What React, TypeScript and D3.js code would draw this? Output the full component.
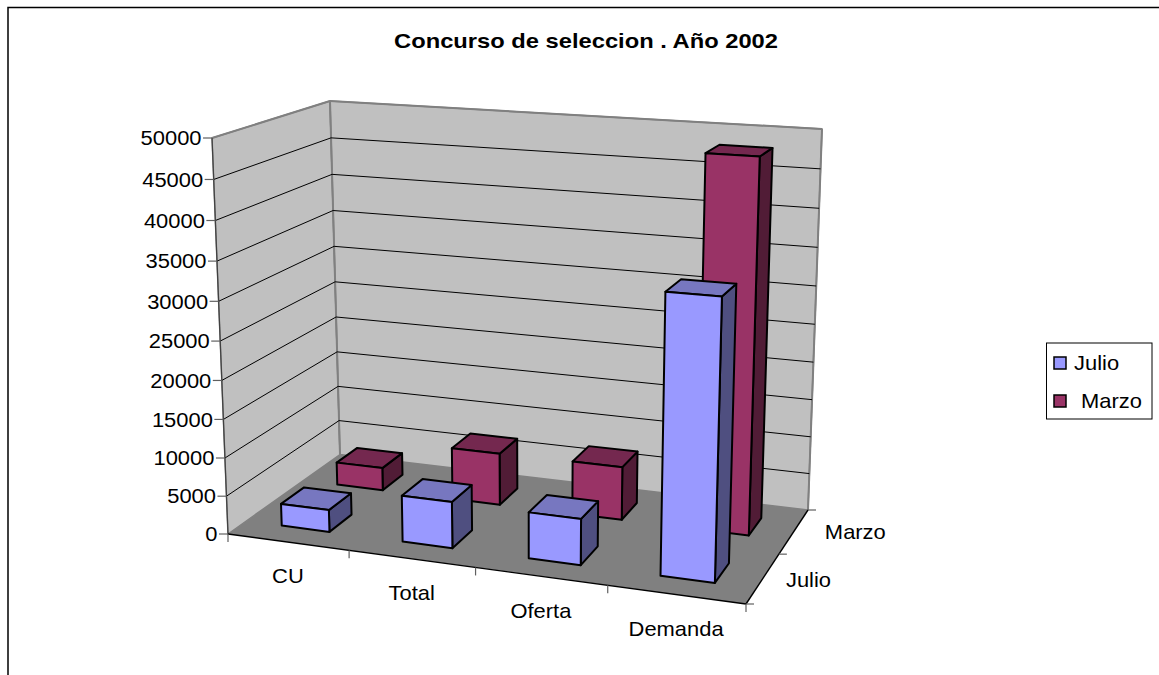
import React from "react";
import * as d3 from "d3";

const categories = ["CU", "Total", "Oferta", "Demanda"];
const seriesNames = ["Julio", "Marzo"];
const julioValues = [2900, 6000, 5900, 34700];
const marzoValues = [3100, 7000, 7100, 48100];
const yTicks = [0, 5000, 10000, 15000, 20000, 25000, 30000, 35000, 40000, 45000, 50000];

const W = 1159, H = 675;
type P = [number, number];

// Unit square -> floor quadrilateral as homogeneous columns (corners: u0v0, u1v0, u1v1, u0v1)
function homography(p0: P, p1: P, p2: P, p3: P) {
  const dx1 = p1[0] - p2[0], dx2 = p3[0] - p2[0], sx = p0[0] - p1[0] + p2[0] - p3[0];
  const dy1 = p1[1] - p2[1], dy2 = p3[1] - p2[1], sy = p0[1] - p1[1] + p2[1] - p3[1];
  const den = dx1 * dy2 - dx2 * dy1;
  const g = (sx * dy2 - dx2 * sy) / den;
  const h = (dx1 * sy - sx * dy1) / den;
  return {
    a: p1[0] - p0[0] + g * p1[0], b: p3[0] - p0[0] + h * p3[0], c: p0[0],
    d: p1[1] - p0[1] + g * p1[1], e: p3[1] - p0[1] + h * p3[1], f: p0[1],
    g, h,
  };
}

const floor = homography([228, 534], [746, 604], [808, 510], [340, 454.5]);
const vanishing: P = [531, 8045];
const lambda = -396 / (8045 - 138);
const zScale = d3.scaleLinear().domain([0, 50000]).range([0, 1]);

function rawProject(u: number, v: number, t: number): P {
  const X = floor.a * u + floor.b * v + floor.c + lambda * t * vanishing[0];
  const Y = floor.d * u + floor.e * v + floor.f + lambda * t * vanishing[1];
  const Z = floor.g * u + floor.h * v + 1 + lambda * t;
  return [X / Z, Y / Z];
}
const backLeftTop = rawProject(0, 1, 1);
const backRightTop = rawProject(1, 1, 1);
const resLeft: P = [330 - backLeftTop[0], 101 - backLeftTop[1]];
const resRight: P = [822 - backRightTop[0], 129 - backRightTop[1]];

function project(u: number, v: number, val: number): P {
  const t = zScale(val);
  const p = rawProject(u, v, t);
  return [
    p[0] + t * v * (resLeft[0] * (1 - u) + resRight[0] * u),
    p[1] + t * v * (resLeft[1] * (1 - u) + resRight[1] * u),
  ];
}

const uBand = d3.scaleBand<string>().domain(categories).range([0, 1]).paddingInner(0.6).paddingOuter(0.3);
const vBand = d3.scaleBand<string>().domain(seriesNames).range([0, 1]).paddingInner(0.6).paddingOuter(0.3);
const uStep = d3.scaleBand<string>().domain(categories).range([0, 1]);
const vStep = d3.scaleBand<string>().domain(seriesNames).range([0, 1]);

const poly = d3.line<P>().curve(d3.curveLinearClosed);

const palette: Record<string, { front: string; top: string; side: string }> = {
  Julio: { front: "#9999FF", top: "#7777C0", side: "#4F4F80" },
  Marzo: { front: "#993366", top: "#74284F", side: "#511C36" },
};
const sideLabelOffset: P[] = [[23, 1], [31, 0]];
const font = "'Liberation Sans', Arial, sans-serif";

function Label({ x, y, anchor = "middle", size = 20.5, sx = 1.07, weight = "normal", children }: any) {
  return (
    <text transform={`translate(${x},${y}) scale(${sx},1)`} textAnchor={anchor} dominantBaseline="central"
      fontFamily={font} fontSize={size} fontWeight={weight} fill="#000" xmlSpace="preserve">{children}</text>
  );
}

function Bar({ cat, ser, value }: { cat: string; ser: string; value: number }) {
  const u0 = uBand(cat)!, u1 = u0 + uBand.bandwidth();
  const v0 = vBand(ser)!, v1 = v0 + vBand.bandwidth();
  const c = palette[ser];
  const fb = [project(u0, v0, 0), project(u1, v0, 0), project(u1, v1, 0)];
  const ft = [project(u0, v0, value), project(u1, v0, value), project(u1, v1, value), project(u0, v1, value)];
  const st = { stroke: "#000", strokeWidth: 2, strokeLinejoin: "round" as const };
  return (
    <g>
      <path d={poly([fb[1], fb[2], ft[2], ft[1]])!} fill={c.side} {...st} />
      <path d={poly(ft)!} fill={c.top} {...st} />
      <path d={poly([fb[0], fb[1], ft[1], ft[0]])!} fill={c.front} {...st} />
    </g>
  );
}

export default function App() {
  const A = project(0, 0, 0), B = project(1, 0, 0), C = project(1, 1, 0), D = project(0, 1, 0);
  const At = project(0, 0, 50000), Ct = project(1, 1, 50000), Dt = project(0, 1, 50000);
  const seg = (a: P, b: P, stroke: string, sw = 1) => (
    <line x1={a[0]} y1={a[1]} x2={b[0]} y2={b[1]} stroke={stroke} strokeWidth={sw} />
  );
  const uTicks = d3.range(categories.length + 1).map((i) => i / categories.length);
  const vTicks = d3.range(seriesNames.length + 1).map((i) => i / seriesNames.length);
  return (
    <svg width={W} height={H} viewBox={`0 0 ${W} ${H}`} style={{ position: "absolute", left: 0, top: 0, background: "#fff" }}>
      <path d={`M8,${H}V7.5H${W}`} fill="none" stroke="#000" strokeWidth={1.5} />
      <Label x={586} y={41} size={21} sx={1.13} weight="bold">Concurso de seleccion . Año 2002</Label>

      <path d={poly([A, D, Dt, At])!} fill="#C0C0C0" stroke="#808080" strokeWidth={1.5} />
      <path d={poly([D, C, Ct, Dt])!} fill="#C0C0C0" stroke="#808080" strokeWidth={1.5} />
      <path d={poly([A, B, C, D])!} fill="#808080" />
      {seg(D, Dt, "#808080", 2)}
      {seg(Dt, Ct, "#808080", 2)}
      {seg(At, Dt, "#808080", 2)}
      {seg(C, Ct, "#808080", 2)}

      {yTicks.slice(1, -1).map((t) => (
        <g key={t}>
          {seg(project(0, 0, t), project(0, 1, t), "#000", 1)}
          {seg(project(0, 1, t), project(1, 1, t), "#000", 1)}
        </g>
      ))}

      {seg(A, At, "#404040", 1.2)}
      {seg(A, B, "#000", 1.4)}
      {seg(B, C, "#000", 1.4)}
      {yTicks.map((t) => {
        const p = project(0, 0, t);
        return (
          <g key={t}>
            {seg([p[0] - 9, p[1]], p, "#606060", 1.2)}
            <Label x={p[0] - 10.5} y={p[1]} anchor="end">{String(t)}</Label>
          </g>
        );
      })}
      {uTicks.map((u) => {
        const p = project(u, 0, 0);
        return <g key={u}>{seg(p, [p[0], p[1] + 8], "#606060", 1.2)}</g>;
      })}
      {vTicks.map((v) => {
        const p = project(1, v, 0);
        return <g key={v}>{seg(p, [p[0] + 8, p[1]], "#606060", 1.2)}</g>;
      })}

      {categories.map((c, i) => <Bar key={c} cat={c} ser="Marzo" value={marzoValues[i]} />)}
      {categories.map((c, i) => <Bar key={c} cat={c} ser="Julio" value={julioValues[i]} />)}

      {categories.map((c) => {
        const p = project(uStep(c)! + uStep.bandwidth() / 2, 0, 0);
        return <Label key={c} x={p[0]} y={p[1] + 34}>{c}</Label>;
      })}
      {seriesNames.map((s, i) => {
        const p = project(1, vStep(s)! + vStep.bandwidth() / 2, 0);
        return <Label key={s} x={p[0] + sideLabelOffset[i][0]} y={p[1] + sideLabelOffset[i][1]} anchor="start">{s}</Label>;
      })}

      <rect x={1046.5} y={343} width={105.5} height={76} fill="#fff" stroke="#000" strokeWidth={1} />
      {seriesNames.map((s, i) => {
        const y = [363, 401][i];
        return (
          <g key={s}>
            <rect x={1054} y={y - 6} width={12} height={12} fill={palette[s].front} stroke="#000" strokeWidth={1.5} />
            <Label x={[1074, 1081][i]} y={y} anchor="start">{s}</Label>
          </g>
        );
      })}
    </svg>
  );
}
